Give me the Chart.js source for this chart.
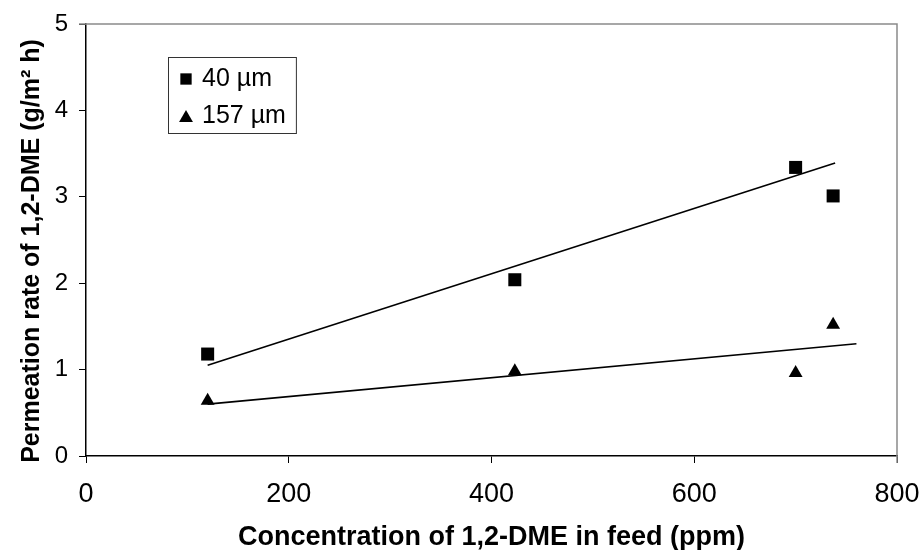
<!DOCTYPE html>
<html>
<head>
<meta charset="utf-8">
<script src="https://cdn.jsdelivr.net/npm/chart.js@4.4.0/dist/chart.umd.min.js"></script>
<style>
    html, body { margin: 0; padding: 0; background: #fff; }
</style>
</head>
<body>
<canvas id="grafico" width="920" height="550"></canvas>
<script>
// --- Datos ---
const concentraciones = [120, 423, 700, 737];        // ppm
const tasa40 = [1.18, 2.04, 3.34, 3.01];             // 40 µm
const tasa157 = [0.64, 0.98, 0.96, 1.52];            // 157 µm

// Líneas de tendencia (extremos)
const tendenciaX40 = [120, 739];
const tendencia40 = [1.05, 3.39];
const tendenciaX157 = [120, 760];
const tendencia157 = [0.60, 1.30];

const ticksX = [0, 200, 400, 600, 800];
const ticksY = [0, 1, 2, 3, 4, 5];

const tituloEjeY = 'Permeation rate of 1,2-DME (g/m² h)';
const fuente = '"Liberation Sans", Arial, sans-serif';

const aPuntos = (xs, ys) => xs.map((x, i) => ({ x: x, y: ys[i] }));

// Marco gris superior y derecho
const marco = {
    id: 'marco',
    afterDraw(chart) {
        const { ctx, chartArea } = chart;
        ctx.save();
        ctx.strokeStyle = '#8a8a8a';
        ctx.lineWidth = 1.5;
        ctx.beginPath();
        ctx.moveTo(chartArea.left - 7, chartArea.top);
        ctx.lineTo(chartArea.right, chartArea.top);
        ctx.lineTo(chartArea.right, chartArea.bottom + 7);
        ctx.stroke();
        ctx.restore();
    }
};

// Título del eje Y (algo desplazado hacia abajo, como en el original)
const tituloY = {
    id: 'tituloY',
    afterDraw(chart) {
        const { ctx, chartArea } = chart;
        ctx.save();
        ctx.translate(32, (chartArea.top + chartArea.bottom) / 2 + 11);
        ctx.rotate(-Math.PI / 2);
        ctx.font = 'bold 25px ' + fuente;
        ctx.fillStyle = '#000';
        ctx.textAlign = 'center';
        ctx.textBaseline = 'middle';
        ctx.fillText(tituloEjeY, 0, 0);
        ctx.restore();
    }
};

// Leyenda con recuadro dentro del área del gráfico
const leyendaCaja = {
    id: 'leyendaCaja',
    afterDraw(chart) {
        const { ctx, chartArea } = chart;
        const items = chart.data.datasets.filter(d => d.enLeyenda);
        const x0 = chartArea.left + 82;
        const y0 = chartArea.top + 33;
        ctx.save();
        ctx.font = '25px ' + fuente;
        const anchoTexto = Math.max(...items.map(d => ctx.measureText(d.label).width));
        const ancho = 34 + anchoTexto + 10;
        const alto = 76;
        ctx.strokeStyle = '#333';
        ctx.lineWidth = 1;
        ctx.strokeRect(x0 + 0.5, y0 + 0.5, ancho, alto);
        items.forEach((d, i) => {
            const cy = y0 + 22 + i * 37;
            ctx.fillStyle = '#000';
            Chart.helpers.drawPoint(ctx, { pointStyle: d.pointStyle, radius: 8, borderWidth: 0, rotation: 0 }, x0 + 18, cy + (d.pointStyle === 'triangle' ? 2 : 0));
            ctx.textBaseline = 'middle';
            ctx.textAlign = 'left';
            ctx.fillText(d.label, x0 + 34, cy);
        });
        ctx.restore();
    }
};

const ctx = document.getElementById('grafico').getContext('2d');

new Chart(ctx, {
    type: 'scatter',
    data: {
        datasets: [
            {
                label: '40 µm',
                enLeyenda: true,
                data: aPuntos(concentraciones, tasa40),
                pointStyle: 'rect',
                pointRadius: 9.2,
                backgroundColor: '#000',
                borderColor: '#000',
                borderWidth: 0
            },
            {
                label: '157 µm',
                enLeyenda: true,
                data: aPuntos(concentraciones, tasa157),
                pointStyle: 'triangle',
                pointRadius: 8,
                backgroundColor: '#000',
                borderColor: '#000',
                borderWidth: 0
            },
            {
                label: 'tendencia 40',
                type: 'line',
                data: aPuntos(tendenciaX40, tendencia40),
                borderColor: '#000',
                borderWidth: 1.6,
                pointRadius: 0,
                fill: false
            },
            {
                label: 'tendencia 157',
                type: 'line',
                data: aPuntos(tendenciaX157, tendencia157),
                borderColor: '#000',
                borderWidth: 1.6,
                pointRadius: 0,
                fill: false
            }
        ]
    },
    options: {
        responsive: false,
        animation: false,
        devicePixelRatio: 1,
        layout: { padding: { top: 24, right: 23, left: 0, bottom: 0 } },
        plugins: {
            legend: { display: false },
            tooltip: { enabled: false }
        },
        scales: {
            x: {
                type: 'linear',
                min: 0,
                max: 800,
                afterBuildTicks: s => { s.ticks = ticksX.map(v => ({ value: v })); },
                afterFit: s => {
                    s.height = 94;
                    s.paddingLeft = 0;
                    s.paddingRight = 0;
                },
                ticks: {
                    color: '#000',
                    font: { family: fuente, size: 27 },
                    padding: 15,
                    maxRotation: 0
                },
                grid: { drawOnChartArea: false, tickLength: 7, color: '#000', tickWidth: 1 },
                border: { color: '#000', width: 1.5 },
                title: {
                    display: true,
                    text: 'Concentration of 1,2-DME in feed (ppm)',
                    color: '#000',
                    font: { family: fuente, size: 27, weight: 'bold', lineHeight: 0.9 },
                    padding: { bottom: 0 }
                }
            },
            y: {
                min: 0,
                max: 5,
                afterBuildTicks: s => { s.ticks = ticksY.map(v => ({ value: v })); },
                afterFit: s => {
                    s.width = 86;
                    s.paddingTop = 0;
                    s.paddingBottom = 0;
                },
                ticks: {
                    color: '#000',
                    font: { family: fuente, size: 24 },
                    padding: 11
                },
                grid: { drawOnChartArea: false, tickLength: 7, color: '#000', tickWidth: 1 },
                border: { color: '#000', width: 1.5 }
            }
        }
    },
    plugins: [marco, tituloY, leyendaCaja]
});
</script>
</body>
</html>
